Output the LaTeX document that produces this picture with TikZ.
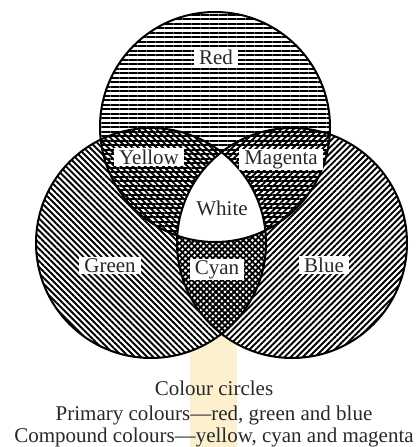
\documentclass[tikz,border=0pt]{standalone}
\usepackage{fontspec}
\setmainfont{Liberation Serif}
\usetikzlibrary{patterns.meta}
\definecolor{bandcol}{RGB}{252,240,206}
\definecolor{txt}{RGB}{40,40,40}
\tikzset{
  lab/.style={fill=white,inner xsep=5pt,inner ysep=1.5pt,anchor=base,text=txt,
    font=\fontsize{21}{23}\selectfont},
  captxt/.style={anchor=base,text=txt,font=\fontsize{21}{23}\selectfont,inner sep=0pt},
  ring/.style={draw=black,line width=2pt},
}
\begin{document}
\begin{tikzpicture}[x=1pt,y=1pt]
\useasboundingbox (0,0) rectangle (420,-447);
% band
\fill[bandcol] (190,-320) rectangle (237,-447);
% circles
\coordinate (cr) at (215,-127);
\coordinate (cg) at (151,-243);
\coordinate (cb) at (292,-243);
\fill[white] (cr) circle[radius=115];
\fill[white] (cg) circle[radius=115];
\fill[white] (cb) circle[radius=115];
\fill[pattern={Lines[angle=0,distance=4.5pt,line width=2pt]}] (cr) circle[radius=115];
\fill[pattern={Lines[angle=-45,distance=4.3pt,line width=1.9pt]}] (cg) circle[radius=115];
\fill[pattern={Lines[angle=45,distance=4.3pt,line width=1.9pt]}] (cb) circle[radius=115];
\begin{scope}
  \clip (cr) circle[radius=115];
  \clip (cg) circle[radius=115];
  \fill[white] (cb) circle[radius=115];
\end{scope}
\draw[ring] (cr) circle[radius=115];
\draw[ring] (cg) circle[radius=115];
\draw[ring] (cb) circle[radius=115];
% labels
\node[lab] (red) at (216,-64) {Red};
\node[lab] (yellow) at (149,-164) {Yellow};
\node[lab] (magenta) at (281,-164) {Magenta};
\node[lab,fill=none] (white) at (222,-215) {White};
\node[lab] (green) at (110,-272) {Green};
\node[lab] (cyan) at (217,-274) {Cyan};
\node[lab] (blue) at (324,-272) {Blue};
% caption
\node[captxt] (c1) at (214,-395) {Colour circles};
\node[captxt] (c2) at (214,-420) {Primary colours---red, green and blue};
\node[captxt] (c3) at (214,-442) {Compound colours---yellow, cyan and magenta};
\end{tikzpicture}
\end{document}
